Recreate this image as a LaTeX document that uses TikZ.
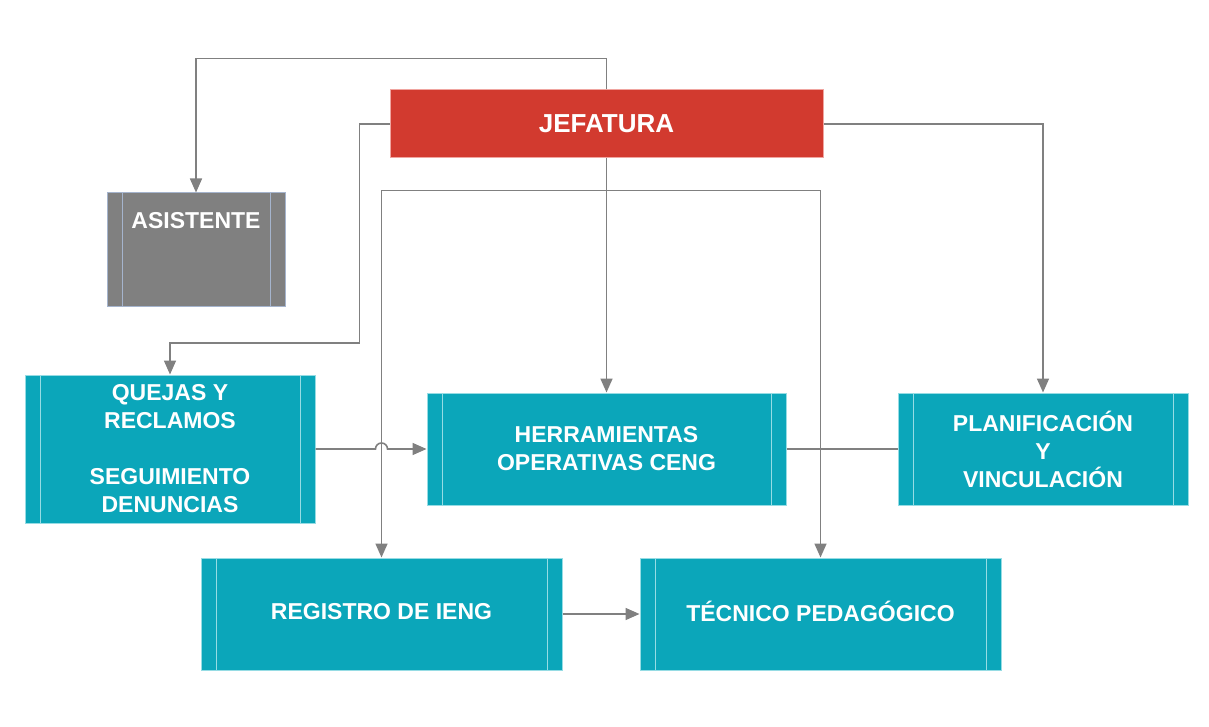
\documentclass[tikz,border=0pt]{standalone}
\usepackage{fontspec}
\setmainfont{Liberation Sans}
\usetikzlibrary{arrows.meta}
\definecolor{tealbox}{RGB}{11,166,186}
\definecolor{tealedge}{RGB}{150,220,228}
\definecolor{redbox}{RGB}{210,58,47}
\definecolor{rededge}{RGB}{240,165,160}
\definecolor{graybox}{RGB}{128,128,128}
\definecolor{grayedge}{RGB}{165,180,205}
\definecolor{linegray}{RGB}{128,128,128}
\tikzset{
  base/.style={rectangle, inner sep=0pt, text=white, align=center,
    font=\fontsize{23}{28}\selectfont\bfseries, line width=1pt},
  procbox/.style={base, fill=tealbox, draw=tealedge,
    path picture={
      \draw[tealedge, line width=1pt]
        ([xshift=15pt]path picture bounding box.north west) -- ([xshift=15pt]path picture bounding box.south west)
        ([xshift=-15pt]path picture bounding box.north east) -- ([xshift=-15pt]path picture bounding box.south east);
    }},
  grayproc/.style={base, fill=graybox, draw=grayedge,
    path picture={
      \draw[grayedge, line width=1pt]
        ([xshift=15pt]path picture bounding box.north west) -- ([xshift=15pt]path picture bounding box.south west)
        ([xshift=-15pt]path picture bounding box.north east) -- ([xshift=-15pt]path picture bounding box.south east);
    }},
  headbox/.style={base, fill=redbox, draw=rededge, font=\fontsize{26}{28}\selectfont\bfseries},
  conn/.style={draw=linegray, line width=1.6pt},
  arr/.style={conn, -{Triangle[length=14pt,width=12pt]}}
}
\begin{document}
\begin{tikzpicture}[x=1pt,y=-1pt]
\useasboundingbox[fill=white] (0,0) rectangle (1209,727);

\node[headbox, minimum width=433pt, minimum height=68pt] (jef) at (606.5,124) {JEFATURA};
\node[grayproc, minimum width=178pt, minimum height=113pt,
  label={[anchor=north, text=white, font=\fontsize{23}{28}\selectfont\bfseries, yshift=-16pt]north:ASISTENTE}] (asis) at (196,249.5) {};
\node[procbox, minimum width=290pt, minimum height=148pt] (quejas) at (170,449)
  {QUEJAS Y\\RECLAMOS\\[28pt]SEGUIMIENTO\\DENUNCIAS};
\node[procbox, minimum width=359pt, minimum height=112pt] (herr) at (606.5,449)
  {HERRAMIENTAS\\OPERATIVAS CENG};
\node[procbox, minimum width=290pt, minimum height=112pt] (plan) at (1043,449)
  {PLANIFICACIÓN\\Y\\VINCULACIÓN};
\node[procbox, minimum width=361pt, minimum height=112pt, text depth=6pt] (reg) at (381.5,614)
  {REGISTRO DE IENG};
\node[procbox, minimum width=361pt, minimum height=112pt, text depth=6pt] (tec) at (820.5,614)
  {TÉCNICO PEDAGÓGICO};

% connectors
\draw[arr] (jef.north) -- ++(0,-31) -| (asis.north);
\draw[arr] (jef.west) -- ++(-30,0) -- ++(0,219) -| (quejas.north);
\draw[arr] (jef.south) -- (herr.north);
\draw[arr] (jef.east) -| (plan.north);
\draw[arr] (jef.south) -- ++(0,32) -| (reg.north);
\draw[arr] (jef.south) -- ++(0,32) -| (tec.north);
\draw[arr] (quejas.east) -- ([xshift=-6pt]reg.north |- quejas.east)
  arc[start angle=180, end angle=0, radius=6pt] -- (herr.west);
\draw[conn] (herr.east) -- (plan.west);
\draw[arr] (reg.east) -- (tec.west);
\end{tikzpicture}
\end{document}
